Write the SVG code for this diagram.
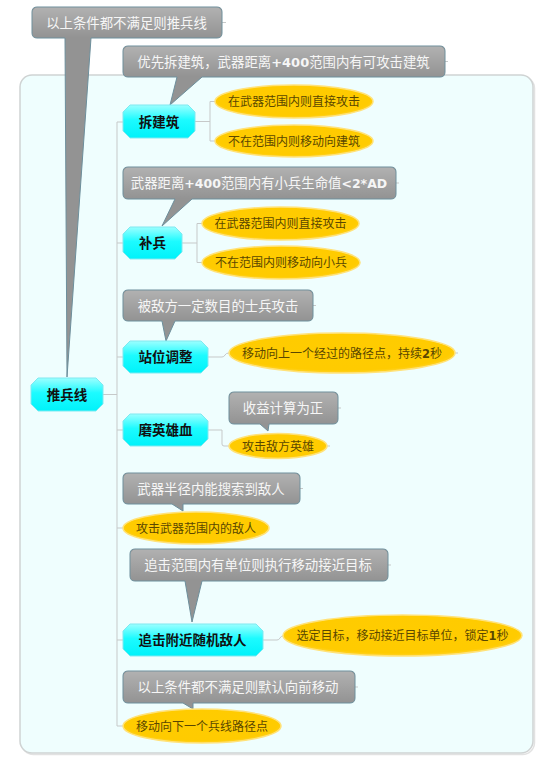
<svg xmlns="http://www.w3.org/2000/svg" width="558" height="766" viewBox="0 0 558 766">
<defs>
<linearGradient id="gHi" x1="0" y1="0" x2="0" y2="1">
<stop offset="0" stop-color="#ffffff" stop-opacity="0.28"/>
<stop offset="1" stop-color="#ffffff" stop-opacity="0"/>
</linearGradient>
<linearGradient id="gNode" x1="0" y1="0" x2="0" y2="1">
<stop offset="0" stop-color="#9cffff"/>
<stop offset="0.45" stop-color="#1cfbff"/>
<stop offset="1" stop-color="#00f2fa"/>
</linearGradient>
<radialGradient id="gEll" cx="0.5" cy="0.45" r="0.6">
<stop offset="0" stop-color="#ffcc00"/>
<stop offset="0.8" stop-color="#ffcb00"/>
<stop offset="1" stop-color="#ffd84a"/>
</radialGradient>
</defs>
<style>
.bg{fill:#effefe;stroke:#cfd3d3;stroke-width:1.5}
.bgs{fill:none;stroke:#e2e2e2;stroke-width:1.5}
.co{fill:#939393;stroke:#6d8f9c;stroke-width:1}
.hi{fill:url(#gHi)}
.ct{font-family:'Noto Sans CJK SC',sans-serif;font-size:13.4px;fill:#f6f6f6;text-anchor:middle}
.node{fill:url(#gNode);stroke:#7ee9f0;stroke-width:1}
.nt{font-family:'Noto Sans CJK SC',sans-serif;font-size:13.5px;font-weight:bold;fill:#111;text-anchor:middle}
.ell{fill:url(#gEll);stroke:#ffe27a;stroke-width:1.5}
.et{font-family:'Noto Sans CJK SC',sans-serif;font-size:12px;fill:#5a4700;text-anchor:middle}
.lat{font-family:'DejaVu Sans',sans-serif;font-weight:bold}
.ln{fill:none;stroke:#c6c9c9;stroke-width:1}
</style>

<rect class="bgs" x="21.5" y="76.5" width="513" height="678" rx="12"/>
<rect class="bg" x="20" y="75" width="513" height="678" rx="12"/>

<g id="connectors">
<path class="ln" d="M103,394.5 H117 M117,122 V726 M117,122 H123 M117,243 H123 M117,357 H123 M117,430 H123 M117,528 H123 M117,640 H123 M117,726 H123"/>
<path class="ln" d="M195,121.5 H210 M210,101.5 V141 M210,101.5 H215 M210,141 H215"/>
<path class="ln" d="M182,243 H197 M197,223.5 V262.5 M197,223.5 H202 M197,262.5 H202"/>
<path class="ln" d="M208,357 H222 Q224,357 225,355 Q226,353 229,353"/>
<path class="ln" d="M208,430 H222 V444 Q222,446 224,446 H229"/>
<path class="ln" d="M263,640 H277 Q279,640 280,638 Q281,636 283,636"/>
<path class="ln" d="M222,22.5 H226 M445,61.5 H448 M396,183 H399 M313,305.5 H316 M338,408 H341 M300,488.5 H303 M388,565 H391 M355,687 H358 M455,353 H458 M327,446 H330"/>
</g>

<g id="callout-top">
<path class="co" d="M37,7 H217 Q222,7 222,12 V33 Q222,38 217,38 H91 L67,377 L65,38 H37 Q32,38 32,33 V12 Q32,7 37,7 Z"/>
<rect class="hi" x="32.5" y="7.5" width="189" height="30" rx="5"/>
<text class="ct" x="126.5" y="27.6">以上条件都不满足则推兵线</text>
</g>

<g id="callout-chai">
<path class="co" d="M128,46 H440 Q445,46 445,51 V72 Q445,77 440,77 H202 L170,105 L177,77 H128 Q123,77 123,72 V51 Q123,46 128,46 Z"/>
<rect class="hi" x="123.5" y="46.5" width="321" height="30" rx="5"/>
<text class="ct" x="283.5" y="66.6">优先拆建筑，武器距离<tspan class="lat" font-size="13">+400</tspan>范围内有可攻击建筑</text>
</g>

<g id="callout-bu">
<path class="co" d="M128,167 H391 Q396,167 396,172 V194 Q396,199 391,199 H192 L162,226 L175,199 H128 Q123,199 123,194 V172 Q123,167 128,167 Z"/>
<rect class="hi" x="123.5" y="167.5" width="272" height="31" rx="5"/>
<text class="ct" x="259" y="188.1">武器距离<tspan class="lat" font-size="12.5">+400</tspan>范围内有小兵生命值<tspan class="lat" font-size="12.5">&lt;2*AD</tspan></text>
</g>

<g id="callout-zhan">
<path class="co" d="M128,290 H308 Q313,290 313,295 V316 Q313,321 308,321 H175 L166,341 L162,321 H128 Q123,321 123,316 V295 Q123,290 128,290 Z"/>
<rect class="hi" x="123.5" y="290.5" width="189" height="30" rx="5"/>
<text class="ct" x="218" y="310.6">被敌方一定数目的士兵攻击</text>
</g>

<g id="callout-mo">
<path class="co" d="M234,392 H333 Q338,392 338,397 V419 Q338,424 333,424 H269 L268,431 L260,424 H234 Q229,424 229,419 V397 Q229,392 234,392 Z"/>
<rect class="hi" x="229.5" y="392.5" width="108" height="31" rx="5"/>
<text class="ct" x="283" y="413.1">收益计算为正</text>
</g>

<g id="callout-search">
<path class="co" d="M128,473 H295 Q300,473 300,478 V499 Q300,504 295,504 H183 L183,511 L172,504 H128 Q123,504 123,499 V478 Q123,473 128,473 Z"/>
<rect class="hi" x="123.5" y="473.5" width="176" height="30" rx="5"/>
<text class="ct" x="211" y="493.6">武器半径内能搜索到敌人</text>
</g>

<g id="callout-chase">
<path class="co" d="M135,549 H383 Q388,549 388,554 V576 Q388,581 383,581 H202 L192,622 L185,581 H135 Q130,581 130,576 V554 Q130,549 135,549 Z"/>
<rect class="hi" x="130.5" y="549.5" width="257" height="31" rx="5"/>
<text class="ct" x="258" y="570.1">追击范围内有单位则执行移动接近目标</text>
</g>

<g id="callout-default">
<path class="co" d="M128,671 H350 Q355,671 355,676 V698 Q355,703 350,703 H193 L193,709 L183,703 H128 Q123,703 123,698 V676 Q123,671 128,671 Z"/>
<rect class="hi" x="123.5" y="671.5" width="231" height="31" rx="5"/>
<text class="ct" x="238" y="692.1">以上条件都不满足则默认向前移动</text>
</g>

<g id="node-tuibingxian">
<polygon class="node" points="38,378 96,378 103,385 103,404 96,411 38,411 31,404 31,385"/>
<text class="nt" x="67" y="399.6">推兵线</text>
</g>

<g id="node-chai">
<polygon class="node" points="130,105 188,105 195,112 195,131 188,138 130,138 123,131 123,112"/>
<text class="nt" x="159" y="126.6">拆建筑</text>
</g>
<g id="e1">
<ellipse class="ell" cx="294" cy="101.5" rx="79" ry="16.5"/>
<text class="et" x="294" y="106.1">在武器范围内则直接攻击</text>
</g>
<g id="e2">
<ellipse class="ell" cx="294" cy="141" rx="79" ry="16"/>
<text class="et" x="294" y="145.6">不在范围内则移动向建筑</text>
</g>

<g id="node-bu">
<polygon class="node" points="130,227 175,227 182,234 182,252 175,259 130,259 123,252 123,234"/>
<text class="nt" x="152.5" y="248.1">补兵</text>
</g>
<g id="e3">
<ellipse class="ell" cx="280.5" cy="223.5" rx="78.5" ry="16.5"/>
<text class="et" x="280.5" y="228.1">在武器范围内则直接攻击</text>
</g>
<g id="e4">
<ellipse class="ell" cx="281" cy="262.5" rx="79" ry="16.5"/>
<text class="et" x="281" y="267.1">不在范围内则移动向小兵</text>
</g>

<g id="node-zhan">
<polygon class="node" points="130,341 201,341 208,348 208,366 201,373 130,373 123,366 123,348"/>
<text class="nt" x="165.5" y="362.1">站位调整</text>
</g>
<g id="e5">
<ellipse class="ell" cx="342" cy="353" rx="113" ry="20"/>
<text class="et" x="342" y="357.6">移动向上一个经过的路径点，持续<tspan class="lat" font-size="11.5">2</tspan>秒</text>
</g>

<g id="node-mo">
<polygon class="node" points="130,414 201,414 208,421 208,439 201,446 130,446 123,439 123,421"/>
<text class="nt" x="165.5" y="435.1">磨英雄血</text>
</g>
<g id="e6">
<ellipse class="ell" cx="278" cy="446" rx="49" ry="12.5"/>
<text class="et" x="278" y="450.6">攻击敌方英雄</text>
</g>

<g id="e7">
<ellipse class="ell" cx="196" cy="528" rx="73" ry="16"/>
<text class="et" x="196" y="532.6">攻击武器范围内的敌人</text>
</g>

<g id="node-chase">
<polygon class="node" points="130,624 256,624 263,631 263,649 256,656 130,656 123,649 123,631"/>
<text class="nt" x="192.5" y="645.1">追击附近随机敌人</text>
</g>
<g id="e8">
<ellipse class="ell" cx="402.5" cy="635.5" rx="119.5" ry="20.5"/>
<text class="et" x="402.5" y="640.1">选定目标，移动接近目标单位，锁定<tspan class="lat" font-size="11.5">1</tspan>秒</text>
</g>

<g id="e9">
<ellipse class="ell" cx="202" cy="726" rx="79" ry="17"/>
<text class="et" x="202" y="730.6">移动向下一个兵线路径点</text>
</g>
</svg>
